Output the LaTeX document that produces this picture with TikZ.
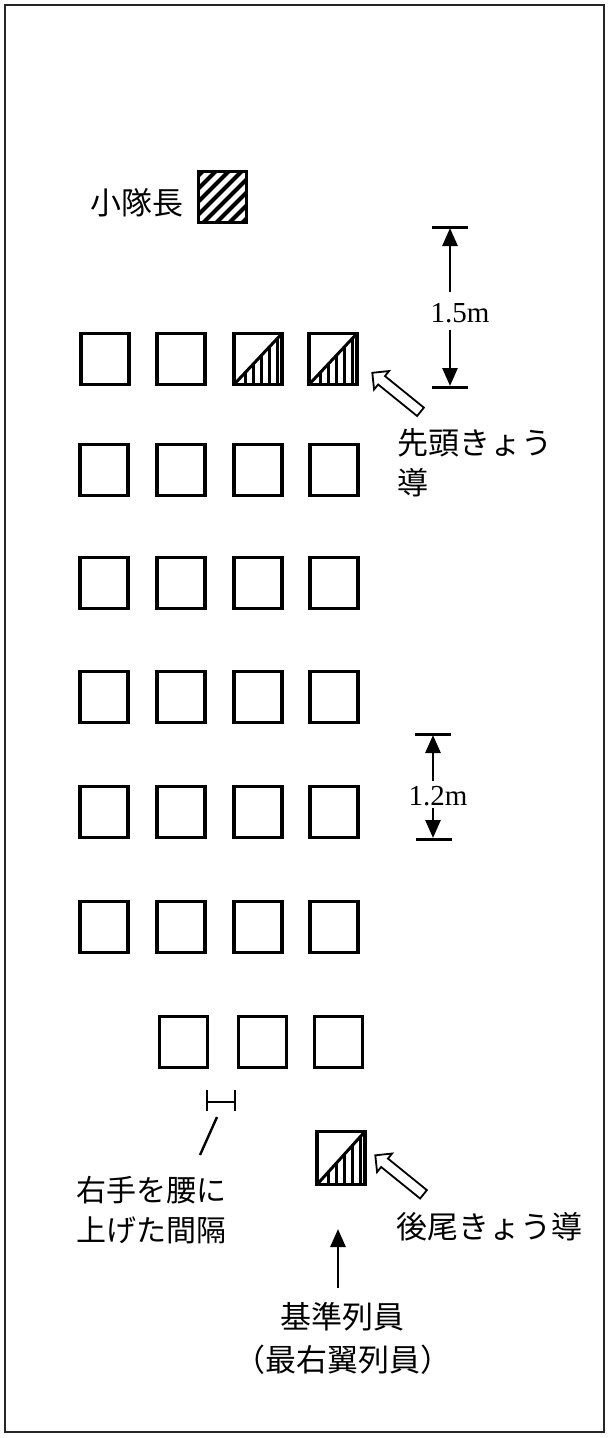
\documentclass[tikz,border=0pt]{standalone}
\usepackage{fontspec}
\setmainfont{Liberation Serif}
\newfontfamily\jp{Noto Sans CJK JP}
\usetikzlibrary{arrows.meta,shapes.arrows}
\begin{document}
\begin{tikzpicture}[x=1pt,y=-1pt,
  member/.style={draw,line width=3.2pt,minimum width=48pt,minimum height=51pt,inner sep=0pt},
  leader/.style={member,path picture={
      \foreach \i in {-65,-52,...,65}
        \draw[line width=4pt] ([xshift=\i pt,yshift=-5pt]path picture bounding box.south west) -- ++(70pt,70pt);}},
  guide/.style={member,path picture={
      \begin{scope}
      \clip (path picture bounding box.south west) -- (path picture bounding box.south east) -- (path picture bounding box.north east) -- cycle;
      \foreach \i in {11,19,...,51}
        \draw[line width=3pt] ([xshift=\i pt]path picture bounding box.south west) -- ++(0pt,60pt);
      \end{scope}
      \draw[line width=3pt] (path picture bounding box.south west) -- (path picture bounding box.north east);}},
  jtext/.style={font=\jp\fontsize{31}{36}\selectfont,inner sep=0pt},
  dimtext/.style={font=\fontsize{29}{31}\selectfont,inner sep=0pt},
  dimarrow/.style={line width=2.8pt,-{Triangle[length=18pt,width=15pt]}},
  bar/.style={line width=3pt},
  hollow/.style={single arrow,draw,line width=1.8pt,fill=white,minimum height=62pt,
      single arrow head extend=6.5pt,inner xsep=0pt,inner ysep=4.5pt,rotate=141,shape border rotate=0}
]
\useasboundingbox (0,0) rectangle (608,1438);
% frame
\draw[line width=2pt,black!85] (5,5) rectangle (604,1432);

% leader
\node[jtext] (lbl) at (137,203) {小隊長};
\node[leader] (ldr) at (222.5,197) {};

% rows 1-6
\node[member] (r1c1) at (105,359) {};
\node[member] (r1c2) at (181,359) {};
\node[guide] (r1c3) at (258,359) {};
\node[guide] (r1c4) at (333,359) {};
\foreach \r/\y in {2/470,3/583,4/697,5/812,6/927}{
  \node[member] (r\r c1) at (104,\y) {};
  \node[member] (r\r c2) at (181,\y) {};
  \node[member] (r\r c3) at (258,\y) {};
  \node[member] (r\r c4) at (334,\y) {};
}
% row 7
\node[member] (r7c2) at (183.5,1042) {};
\node[member] (r7c3) at (262.5,1042) {};
\node[member] (r7c4) at (338.5,1042) {};
% trailing guide
\node[guide,minimum height=53pt] (tail) at (341,1158) {};

% 1.5m dimension
\coordinate (a1) at (432,227);
\coordinate (a2) at (468,227);
\coordinate (a3) at (432,387);
\coordinate (a4) at (468,387);
\coordinate (atop) at (450,228);
\coordinate (abot) at (450,386);
\draw[bar] (a1) -- (a2);
\draw[bar] (a3) -- (a4);
\node[dimtext] (d15) at (460,313) {1.5m};
\draw[dimarrow] (450,292) -- (atop);
\draw[dimarrow] (450,330) -- (abot);

% 1.2m dimension
\coordinate (b1) at (415,734);
\coordinate (b2) at (451,734);
\coordinate (b3) at (416,839);
\coordinate (b4) at (452,839);
\coordinate (btop) at (433,735);
\coordinate (bbot) at (433,838);
\draw[bar] (b1) -- (b2);
\draw[bar] (b3) -- (b4);
\node[dimtext] (d12) at (438,796) {1.2m};
\draw[dimarrow] (433,781) -- (btop);
\draw[dimarrow] (433,808) -- (bbot);

% head guide label
\node[hollow] (h1) at (398.5,394) {};
\node[jtext,anchor=west] (lead1) at (397,443) {先頭きょう};
\node[jtext,anchor=west] (lead2) at (397,483) {導};

% rear guide label
\node[hollow] (h2) at (401.5,1176.5) {};
\node[jtext,anchor=west] (rear) at (396,1227) {後尾きょう導};

% interval mark
\coordinate (i1) at (207,1090);
\coordinate (i2) at (207,1111);
\coordinate (i3) at (235,1090);
\coordinate (i4) at (235,1111);
\draw[line width=2.6pt] (i1) -- (i2);
\draw[line width=2.6pt] (i3) -- (i4);
\draw[line width=2.6pt] (207,1102) -- (235,1102);
\coordinate (s1) at (217,1117);
\coordinate (s2) at (200,1155);
\draw[line width=2.4pt] (s1) -- (s2);
\node[jtext,anchor=west,font=\jp\fontsize{30}{36}\selectfont] (int1) at (76,1190) {右手を腰に};
\node[jtext,anchor=west,font=\jp\fontsize{30}{36}\selectfont] (int2) at (76,1230) {上げた間隔};

% base member
\node[jtext] (base1) at (342,1317) {基準列員};
\node[jtext] (base2) at (343,1360) {（最右翼列員）};
\coordinate (bt) at (338,1229);
\draw[dimarrow] (338,1288) -- (bt);
\end{tikzpicture}
\end{document}
